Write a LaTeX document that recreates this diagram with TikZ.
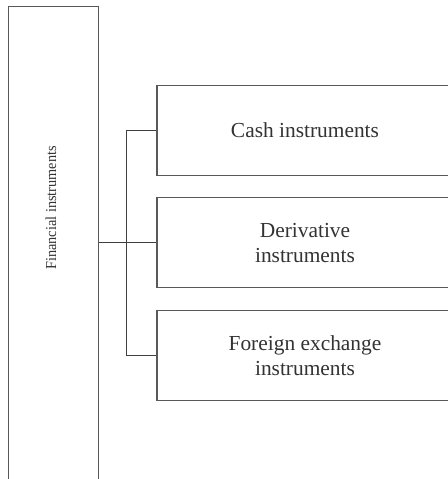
\documentclass[tikz,border=0pt]{standalone}
\usepackage{fontspec}
\setmainfont{Liberation Serif}
\tikzset{
  frame/.style={draw=black!65, line width=0.65pt, inner sep=0pt, fill=white},
  itembox/.style={frame, minimum width=148pt, minimum height=45pt, align=center,
    text=black!80, font=\fontsize{10.7pt}{12.5pt}\selectfont},
  link/.style={draw=black!75, line width=0.6pt}
}
\begin{document}
\begin{tikzpicture}[x=0.5pt, y=-0.5pt]
  \useasboundingbox (0,0) rectangle (448,479);
  \clip (0,0) rectangle (448,479);
  % tall container on the left, running past the lower edge
  \node[frame, minimum width=45pt, minimum height=260pt, anchor=north west] (fin) at (8,5.5) {};
  \node[rotate=90, text=black!80, font=\fontsize{7.6pt}{9pt}\selectfont] (finlabel) at (51,208)
    {\scalebox{0.94}[1]{Financial instruments}};
  % the three kinds of instruments
  \node[itembox] (cash) at (305,130.5) {Cash instruments};
  \node[itembox] (deriv) at (305,242.8) {Derivative\\instruments};
  \node[itembox] (forex) at (305,355.8) {Foreign exchange\\instruments};
  % connectors
  \draw[link] (fin.east |- deriv.west) -- (deriv.west);
  \draw[link] (cash.west) -- ++(-30,0) coordinate (bus) |- (forex.west);
\end{tikzpicture}
\end{document}
